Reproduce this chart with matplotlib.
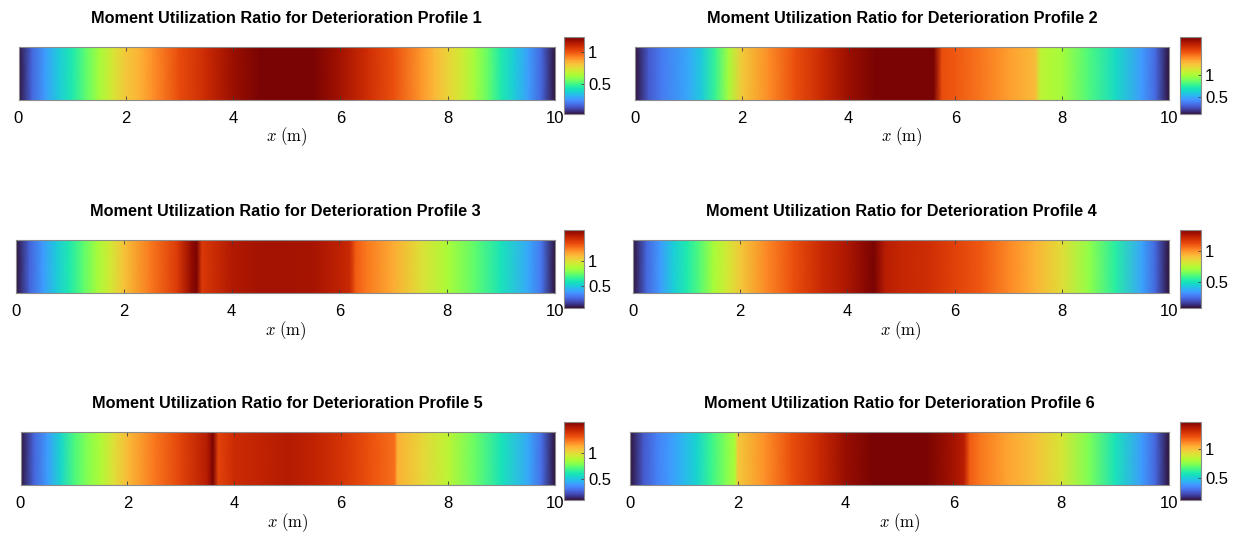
import matplotlib
matplotlib.use("Agg")
import matplotlib.pyplot as plt
import numpy as np

# utilization ratio along the beam
x1 = [0, 0.25, 0.5, 0.75, 1, 1.25, 1.5, 1.75, 2, 2.25, 2.5, 3, 3.5, 4, 4.5, 5, 5.5, 6, 6.5, 7, 7.5, 7.75, 8, 8.25, 8.5, 8.75, 9, 9.25, 9.5, 9.75, 10]
u1 = [0.04, 0.18, 0.28, 0.37, 0.45, 0.54, 0.63, 0.72, 0.80, 0.84, 0.90, 1.01, 1.09, 1.17, 1.22, 1.22, 1.22, 1.16, 1.08, 1.00, 0.89, 0.83, 0.77, 0.71, 0.63, 0.55, 0.45, 0.37, 0.28, 0.18, 0.04]

x2 = [0, 0.25, 0.5, 1, 1.25, 1.5, 1.75, 2, 2.5, 3, 3.5, 4, 4.5, 5, 5.6, 5.75, 6, 6.5, 7, 7.5, 7.6, 8, 8.5, 9, 9.5, 9.75, 10]
u2 = [0.12, 0.29, 0.38, 0.50, 0.60, 0.77, 0.98, 1.21, 1.37, 1.52, 1.64, 1.76, 1.83, 1.83, 1.83, 1.52, 1.49, 1.42, 1.33, 1.25, 1.04, 0.98, 0.82, 0.65, 0.46, 0.33, 0.12]

x3 = [0, 0.25, 0.5, 0.75, 1, 1.25, 1.5, 1.75, 2, 2.5, 3, 3.25, 3.35, 3.45, 4, 4.5, 5, 5.5, 6, 6.2, 6.3, 6.5, 7, 7.5, 8, 8.5, 9, 9.5, 9.75, 10]
u3 = [0.08, 0.26, 0.39, 0.51, 0.62, 0.73, 0.85, 0.96, 1.08, 1.25, 1.40, 1.57, 1.62, 1.40, 1.51, 1.54, 1.54, 1.53, 1.48, 1.45, 1.31, 1.25, 1.14, 1.00, 0.87, 0.74, 0.59, 0.42, 0.30, 0.08]

x4 = [0, 0.25, 0.5, 0.75, 1, 1.25, 1.5, 1.75, 2, 2.5, 3, 3.5, 4, 4.3, 4.5, 4.7, 5, 5.5, 6, 6.5, 7, 7.5, 8, 8.5, 9, 9.5, 9.75, 10]
u4 = [0.08, 0.23, 0.33, 0.44, 0.52, 0.61, 0.72, 0.80, 0.89, 1.02, 1.12, 1.21, 1.27, 1.32, 1.35, 1.25, 1.22, 1.20, 1.15, 1.10, 1.02, 0.94, 0.84, 0.69, 0.54, 0.35, 0.23, 0.08]

x5 = [0, 0.25, 0.5, 0.75, 1, 1.25, 1.5, 1.75, 2, 2.5, 3, 3.5, 3.6, 3.7, 4, 4.5, 5, 5.5, 6, 6.5, 7, 7.05, 7.5, 8, 8.5, 9, 9.5, 9.75, 10]
u5 = [0.08, 0.26, 0.39, 0.54, 0.70, 0.79, 0.88, 1.00, 1.10, 1.25, 1.37, 1.50, 1.62, 1.37, 1.44, 1.47, 1.50, 1.47, 1.42, 1.34, 1.27, 1.13, 1.03, 0.91, 0.75, 0.59, 0.42, 0.28, 0.08]

x6 = [0, 0.25, 0.5, 0.75, 1, 1.25, 1.5, 1.75, 1.95, 2.0, 2.5, 3, 3.5, 4, 4.5, 5, 5.5, 6, 6.2, 6.3, 6.5, 7, 7.5, 8, 8.5, 9, 9.5, 9.75, 10]
u6 = [0.13, 0.26, 0.34, 0.40, 0.46, 0.53, 0.64, 0.73, 0.82, 0.98, 1.10, 1.22, 1.31, 1.41, 1.46, 1.46, 1.46, 1.39, 1.35, 1.19, 1.14, 1.06, 1.00, 0.90, 0.74, 0.57, 0.40, 0.29, 0.13]

xs = [x1, x2, x3, x4, x5, x6]
us = [u1, u2, u3, u4, u5, u6]
profiles = [1, 2, 3, 4, 5, 6]
cb_ticks = [0.5, 1]
x_ticks = [0, 2, 4, 6, 8, 10]

W, H = 1241, 533
fig = plt.figure(figsize=(W / 100, H / 100), dpi=100)
plt.rcParams['mathtext.fontset'] = 'cm'

def box(l, t, r, b):
    return [l / W, 1 - b / H, (r - l) / W, (b - t) / H]

tops = [46.5, 240, 431.5]
bots = [99.5, 293, 485]
cb_tops = [37.3, 229.5, 422]
cb_bots = [114.3, 307.7, 500]
lefts = [[18.5, 635], [16, 633], [20.5, 630]]
rights = [555, 1169]
cb_x = [[563.5, 584], [1180, 1201]]

edge = '#8c8c8c'

for i in range(6):
    row, col = i // 2, i % 2
    ax = fig.add_axes(box(lefts[row][col], tops[row], rights[col], bots[row]))
    x = np.array(xs[i])
    u = np.array(us[i])
    X = np.vstack([x, x])
    Y = np.vstack([np.zeros_like(x), np.ones_like(x)])
    C = np.vstack([u, u])
    m = ax.pcolormesh(X, Y, C, cmap='turbo', shading='gouraud', vmin=u.min(), vmax=u.max())
    ax.set_xlim(0, 10)
    ax.set_ylim(0, 1)
    ax.set_xticks(x_ticks)
    ax.set_yticks([])
    ax.tick_params(axis='x', direction='in', top=True, length=3, width=0.6,
                   color='#404040', labelsize=12, pad=8)
    for s in ax.spines.values():
        s.set_color(edge)
        s.set_linewidth(0.8)
    ax.set_title('Moment Utilization Ratio for Deterioration Profile %d' % profiles[i],
                 fontsize=11.7, fontweight='bold', family='Liberation Sans', pad=17)
    ax.set_xlabel(r'$x\ \mathrm{(m)}$', fontsize=12, labelpad=0)
    for lab in ax.get_xticklabels():
        lab.set_family('Liberation Sans')

    cax = fig.add_axes(box(cb_x[col][0], cb_tops[row], cb_x[col][1], cb_bots[row]))
    cb = fig.colorbar(m, cax=cax)
    cb.set_ticks(cb_ticks)
    cb.set_ticklabels(['0.5', '1'])
    cax.tick_params(direction='in', length=2, width=0.6, color='#404040', labelsize=12, pad=3)
    for lab in cax.get_yticklabels():
        lab.set_family('Liberation Sans')
    cb.outline.set_edgecolor(edge)
    cb.outline.set_linewidth(0.8)

fig.savefig('out.png', dpi=100)
